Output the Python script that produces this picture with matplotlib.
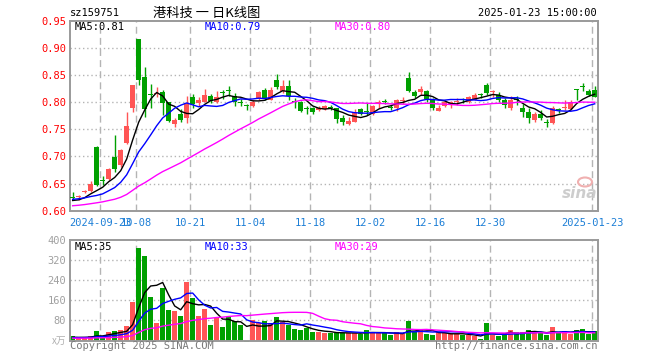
import matplotlib
matplotlib.use('Agg')
import matplotlib.pyplot as plt
import numpy as np
import pandas as pd

# ---------------- data ----------------
dates = ["2024-09-12", "2024-09-13", "2024-09-18", "2024-09-19", "2024-09-20",
         "2024-09-23", "2024-09-24", "2024-09-25", "2024-09-26", "2024-09-27",
         "2024-09-30", "2024-10-08", "2024-10-09", "2024-10-10", "2024-10-11",
         "2024-10-14", "2024-10-15", "2024-10-16", "2024-10-17", "2024-10-18",
         "2024-10-21", "2024-10-22", "2024-10-23", "2024-10-24", "2024-10-25",
         "2024-10-28", "2024-10-29", "2024-10-30", "2024-10-31", "2024-11-01",
         "2024-11-04", "2024-11-05", "2024-11-06", "2024-11-07", "2024-11-08",
         "2024-11-11", "2024-11-12", "2024-11-13", "2024-11-14", "2024-11-15",
         "2024-11-18", "2024-11-19", "2024-11-20", "2024-11-21", "2024-11-22",
         "2024-11-25", "2024-11-26", "2024-11-27", "2024-11-28", "2024-11-29",
         "2024-12-02", "2024-12-03", "2024-12-04", "2024-12-05", "2024-12-06",
         "2024-12-09", "2024-12-10", "2024-12-11", "2024-12-12", "2024-12-13",
         "2024-12-16", "2024-12-17", "2024-12-18", "2024-12-19", "2024-12-20",
         "2024-12-23", "2024-12-24", "2024-12-25", "2024-12-26", "2024-12-27",
         "2024-12-30", "2024-12-31", "2025-01-02", "2025-01-03", "2025-01-06",
         "2025-01-07", "2025-01-08", "2025-01-09", "2025-01-10", "2025-01-13",
         "2025-01-14", "2025-01-15", "2025-01-16", "2025-01-17", "2025-01-20",
         "2025-01-21", "2025-01-22", "2025-01-23"]

opens = [0.625, 0.625, 0.634, 0.637, 0.718, 0.656, 0.658, 0.698, 0.684, 0.725,
         0.790, 0.916, 0.846, 0.814, 0.815, 0.819, 0.800, 0.760, 0.778, 0.770,
         0.809, 0.799, 0.801, 0.811, 0.801, 0.818, 0.821, 0.811, 0.799, 0.793,
         0.793, 0.805, 0.822, 0.804, 0.841, 0.820, 0.830, 0.802, 0.801, 0.788,
         0.789, 0.785, 0.787, 0.791, 0.789, 0.770, 0.760, 0.764, 0.787, 0.783,
         0.779, 0.796, 0.802, 0.790, 0.790, 0.802, 0.844, 0.819, 0.819, 0.821,
         0.804, 0.784, 0.793, 0.795, 0.801, 0.805, 0.801, 0.804, 0.814, 0.832,
         0.818, 0.813, 0.804, 0.790, 0.805, 0.790, 0.782, 0.767, 0.778, 0.763,
         0.762, 0.786, 0.789, 0.787, 0.823, 0.829, 0.821, 0.822]
highs = [0.634, 0.629, 0.638, 0.654, 0.719, 0.664, 0.678, 0.739, 0.713, 0.782,
         0.832, 0.917, 0.865, 0.833, 0.827, 0.822, 0.801, 0.770, 0.788, 0.811,
         0.815, 0.810, 0.825, 0.815, 0.820, 0.822, 0.829, 0.817, 0.805, 0.797,
         0.803, 0.821, 0.826, 0.827, 0.852, 0.841, 0.841, 0.807, 0.802, 0.793,
         0.791, 0.793, 0.795, 0.795, 0.790, 0.776, 0.773, 0.787, 0.790, 0.798,
         0.794, 0.804, 0.806, 0.795, 0.805, 0.810, 0.856, 0.823, 0.829, 0.823,
         0.807, 0.794, 0.804, 0.802, 0.807, 0.808, 0.811, 0.816, 0.816, 0.835,
         0.822, 0.819, 0.807, 0.811, 0.811, 0.797, 0.789, 0.782, 0.785, 0.768,
         0.793, 0.789, 0.804, 0.804, 0.825, 0.836, 0.824, 0.829]
lows = [0.620, 0.620, 0.633, 0.635, 0.645, 0.647, 0.657, 0.672, 0.681, 0.723,
        0.782, 0.832, 0.772, 0.789, 0.810, 0.776, 0.763, 0.755, 0.764, 0.762,
        0.790, 0.792, 0.800, 0.798, 0.799, 0.806, 0.812, 0.793, 0.792, 0.786,
        0.791, 0.803, 0.803, 0.803, 0.825, 0.816, 0.804, 0.789, 0.782, 0.778,
        0.778, 0.783, 0.785, 0.785, 0.762, 0.758, 0.758, 0.763, 0.776, 0.776,
        0.776, 0.790, 0.796, 0.786, 0.784, 0.796, 0.818, 0.807, 0.813, 0.800,
        0.785, 0.783, 0.791, 0.789, 0.795, 0.798, 0.799, 0.803, 0.807, 0.813,
        0.810, 0.801, 0.789, 0.786, 0.795, 0.773, 0.761, 0.764, 0.767, 0.755,
        0.760, 0.780, 0.786, 0.786, 0.804, 0.821, 0.811, 0.809]
closes = [0.624, 0.626, 0.637, 0.650, 0.648, 0.655, 0.677, 0.676, 0.712, 0.756,
          0.831, 0.840, 0.788, 0.813, 0.817, 0.799, 0.765, 0.767, 0.767, 0.798,
          0.796, 0.804, 0.814, 0.802, 0.809, 0.817, 0.820, 0.801, 0.798, 0.792,
          0.801, 0.819, 0.807, 0.822, 0.827, 0.830, 0.811, 0.801, 0.784, 0.787,
          0.782, 0.790, 0.793, 0.790, 0.768, 0.764, 0.766, 0.781, 0.779, 0.782,
          0.793, 0.801, 0.801, 0.789, 0.803, 0.803, 0.820, 0.811, 0.825, 0.805,
          0.790, 0.790, 0.801, 0.801, 0.802, 0.804, 0.809, 0.813, 0.813, 0.816,
          0.819, 0.804, 0.795, 0.804, 0.804, 0.782, 0.770, 0.779, 0.770, 0.762,
          0.789, 0.785, 0.790, 0.801, 0.822, 0.828, 0.813, 0.809]
# closes of the 29 sessions before the window (estimated from where the MA lines start)
hist_close = [0.598, 0.600, 0.602, 0.599, 0.601, 0.604, 0.606, 0.603, 0.600, 0.602,
              0.605, 0.607, 0.604, 0.602, 0.605, 0.606, 0.604, 0.603, 0.606, 0.608,
              0.615, 0.620, 0.626, 0.628, 0.626, 0.620, 0.617, 0.615, 0.618]

volumes = [17, 9, 13, 16, 36, 17, 32, 36, 40, 57,
           152, 368, 336, 172, 71, 208, 120, 116, 96, 232,
           169, 96, 124, 63, 91, 52, 93, 76, 60, -5,
           80, 71, 76, 71, 93, 73, 63, 47, 40, 49,
           33, 33, 31, 30, 30, 30, 30, 30, 26, 40,
           33, 29, 29, 20, 33, 26, 76, 33, 46, 26,
           20, 33, 29, 26, 26, 20, 22, 16, 6, 68,
           20, 16, 22, 40, 34, 34, 42, 30, 30, 20,
           52, 30, 37, 24, 42, 46, 24, 38]
hist_volume = [8, 8, 8, 8, 8, 8, 8, 8, 8, 8,
               8, 8, 8, 8, 8, 8, 8, 8, 8, 8,
               10, 10, 10, 10, 10, 12, 12, 12, 12]

tick_idx = [5, 11, 20, 30, 40, 50, 60, 70, 87]
price_ticks = [0.60, 0.65, 0.70, 0.75, 0.80, 0.85, 0.90, 0.95]
vol_ticks = [80, 160, 240, 320, 400]

# ---------------- style ----------------
RED = '#ff5555'
GREEN = '#00a000'
GRID = '#b4b4b4'
SPINE = '#9a9a9a'
MONO = 'DejaVu Sans Mono'
CJK = ['Noto Sans CJK SC', 'DejaVu Sans']

W, H = 660, 360
fig = plt.figure(figsize=(W / 100, H / 100), dpi=100)


def rect(l, t, r, b):
    return [l / W, 1 - b / H, (r - l) / W, (b - t) / H]


ax = fig.add_axes(rect(70.3, 20.7, 597.7, 210.7))
axv = fig.add_axes(rect(70.3, 240.0, 597.7, 340.5))

n = len(closes)
x = np.arange(n)
o = np.array(opens); c = np.array(closes); h = np.array(highs); l = np.array(lows)
up = c > o
cols = np.where(up, RED, GREEN)

# moving averages
allc = pd.Series(hist_close + closes)
ma = {k: allc.rolling(k).mean().values[len(hist_close):] for k in (5, 10, 30)}
allv = pd.Series(hist_volume + [max(v, 0) for v in volumes])
mav = {k: allv.rolling(k).mean().values[len(hist_volume):] for k in (5, 10, 30)}

XL = (-0.395, 87.5)
grid_x = [i - 0.4 for i in tick_idx]

for a in (ax, axv):
    a.set_xlim(*XL)
    for gx in grid_x:
        a.axvline(gx, color=GRID, lw=1.0, linestyle=(0, (5, 3)), zorder=0)
    for s in a.spines.values():
        s.set_color(SPINE)
        s.set_linewidth(1.4)
    a.tick_params(length=0)

# price panel
ax.set_ylim(0.60, 0.95)
for yv in price_ticks[1:-1]:
    ax.axhline(yv, color=GRID, lw=1.0, linestyle=(0, (1, 2)), zorder=0)
ax.vlines(x, l, h, colors=cols, lw=1.0, zorder=2)
body_lo = np.minimum(o, c)
body_h = np.maximum(np.abs(c - o), 0.0019)
ax.bar(x, body_h, bottom=body_lo, width=0.8, color=cols, linewidth=0, zorder=3)
ax.plot(x, ma[5], color='black', lw=1.0, zorder=4)
ax.plot(x, ma[10], color='#0000ff', lw=1.0, zorder=4)
ax.plot(x, ma[30], color='#ff00ff', lw=1.0, zorder=4)

ax.set_yticks(price_ticks)
ax.set_yticklabels([f"{v:.2f}" for v in price_ticks], color='#ff0000',
                   fontfamily=MONO, fontsize=7.5)
ax.tick_params(axis='y', pad=3)
labels = [dates[i] if i in (tick_idx[0], tick_idx[-1]) else dates[i][5:] for i in tick_idx]
ax.set_xticks(grid_x)
ax.set_xticklabels(labels, color='#1c7ed6', fontfamily=MONO, fontsize=7.5)
ax.tick_params(axis='x', pad=5)

# volume panel
axv.set_ylim(0, 400)
for yv in vol_ticks[:-1]:
    axv.axhline(yv, color=GRID, lw=1.0, linestyle=(0, (1, 2)), zorder=0)
vh = np.array(volumes, dtype=float)
axv.bar(x, vh, width=0.8, color=cols, linewidth=0, zorder=2, clip_on=False)
axv.plot(x, mav[5], color='black', lw=1.0, zorder=4)
axv.plot(x, mav[10], color='#0000ff', lw=1.0, zorder=4)
axv.plot(x, mav[30], color='#ff00ff', lw=1.0, zorder=4)
axv.set_yticks(vol_ticks)
axv.set_yticklabels([str(v) for v in vol_ticks], color='#a0a0a0',
                    fontfamily=MONO, fontsize=7.5)
axv.tick_params(axis='y', pad=3)
axv.set_xticks([])

# texts
def ftxt(px, py, s, **kw):
    fig.text(px / W, 1 - py / H, s, **kw)

ftxt(70, 13, "sz159751", fontfamily=MONO, fontsize=7.5, va='center', ha='left')
ftxt(207, 13, "港科技 一 日K线图", fontfamily=CJK, fontsize=9.5, va='center', ha='center')
ftxt(597, 13, "2025-01-23 15:00:00", fontfamily=MONO, fontsize=7.5, va='center', ha='right')

ftxt(74.5, 27, "MA5:0.81", fontfamily=MONO, fontsize=7.5, va='center', color='black')
ftxt(204.5, 27, "MA10:0.79", fontfamily=MONO, fontsize=7.5, va='center', color='#0000ff')
ftxt(334.5, 27, "MA30:0.80", fontfamily=MONO, fontsize=7.5, va='center', color='#ff00ff')

ftxt(74.5, 247, "MA5:35", fontfamily=MONO, fontsize=7.5, va='center', color='black')
ftxt(204.5, 247, "MA10:33", fontfamily=MONO, fontsize=7.5, va='center', color='#0000ff')
ftxt(334.5, 247, "MA30:29", fontfamily=MONO, fontsize=7.5, va='center', color='#ff00ff')

ftxt(66, 341, "x万", fontfamily=CJK, fontsize=7, va='center', ha='right', color='#b0b0b0')
ftxt(70, 346, "Copyright 2025 SINA.COM", fontfamily=MONO, fontsize=7.5, va='center',
     ha='left', color='#7a7a7a')
ftxt(597, 346, "http://finance.sina.com.cn", fontfamily=MONO, fontsize=7.5, va='center',
     ha='right', color='#7a7a7a')

# sina watermark
ftxt(580, 193, "sina", fontfamily='DejaVu Sans', fontsize=11, fontweight='bold',
     fontstyle='italic', va='center', ha='center', color='#c8c8c8', alpha=0.9)
fig.patches.append(matplotlib.patches.Ellipse((585 / W, 1 - 182 / H), 14 / W, 9 / H,
                   transform=fig.transFigure, facecolor='none',
                   edgecolor='#f0b0b0', lw=1.5))

fig.savefig('out.png', dpi=100)
